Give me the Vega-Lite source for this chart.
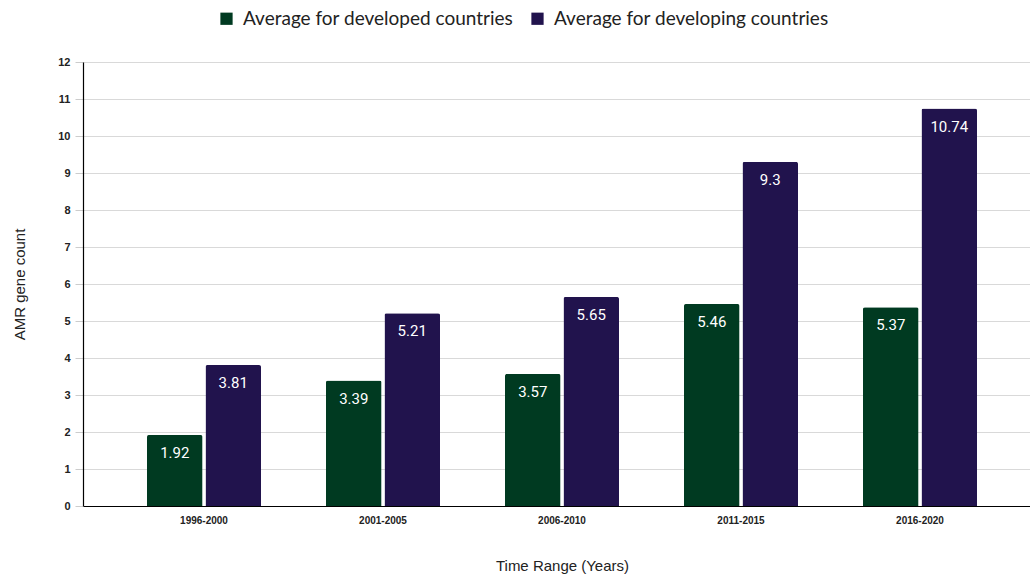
{
  "$schema": "https://vega.github.io/schema/vega-lite/v6.json",
  "width": 958,
  "height": 444,
  "autosize": "none",
  "padding": {"left": 83, "top": 62, "right": 0, "bottom": 71},
  "background": "white",
  "data": {
    "values": [
      {"range": "1996-2000", "group": "Average for developed countries", "value": 1.92},
      {"range": "1996-2000", "group": "Average for developing countries", "value": 3.81},
      {"range": "2001-2005", "group": "Average for developed countries", "value": 3.39},
      {"range": "2001-2005", "group": "Average for developing countries", "value": 5.21},
      {"range": "2006-2010", "group": "Average for developed countries", "value": 3.57},
      {"range": "2006-2010", "group": "Average for developing countries", "value": 5.65},
      {"range": "2011-2015", "group": "Average for developed countries", "value": 5.46},
      {"range": "2011-2015", "group": "Average for developing countries", "value": 9.3},
      {"range": "2016-2020", "group": "Average for developed countries", "value": 5.37},
      {"range": "2016-2020", "group": "Average for developing countries", "value": 10.74}
    ]
  },
  "encoding": {
    "x": {
      "field": "range",
      "type": "nominal",
      "sort": null,
      "scale": {"paddingInner": 0.363, "paddingOuter": 0.3575},
      "axis": {
        "title": "Time Range (Years)",
        "titleFont": "Liberation Sans",
        "titleFontSize": 15,
        "titleFontWeight": "normal",
        "titleColor": "#222222",
        "titlePadding": 33,
        "labelAngle": 0,
        "labelFont": "Liberation Sans Narrow, Liberation Sans",
        "labelFontSize": 10,
        "labelFontWeight": "bold",
        "labelColor": "#222222",
        "labelPadding": 9,
        "ticks": false,
        "domainColor": "#000000",
        "domainWidth": 1.2,
        "grid": false
      }
    },
    "xOffset": {
      "field": "group",
      "type": "nominal",
      "scale": {"paddingInner": 0.05}
    },
    "y": {
      "field": "value",
      "type": "quantitative",
      "scale": {"domain": [0, 12]},
      "axis": {
        "title": "AMR gene count",
        "titleFont": "Liberation Sans",
        "titleFontSize": 15,
        "titleFontWeight": "normal",
        "titleColor": "#222222",
        "titlePadding": 30,
        "values": [0, 1, 2, 3, 4, 5, 6, 7, 8, 9, 10, 11, 12],
        "labelOverlap": false,
        "labelFont": "Liberation Sans",
        "labelFontSize": 11,
        "labelFontWeight": "bold",
        "labelColor": "#222222",
        "labelPadding": 5,
        "tickSize": 8,
        "tickColor": "#cccccc",
        "domainColor": "#000000",
        "domainWidth": 1.2,
        "gridColor": "#d9d9d9",
        "gridWidth": 1
      }
    }
  },
  "layer": [
    {
      "mark": {"type": "bar", "cornerRadiusTopLeft": 2, "cornerRadiusTopRight": 2},
      "encoding": {
        "color": {
          "field": "group",
          "type": "nominal",
          "scale": {
            "domain": ["Average for developed countries", "Average for developing countries"],
            "range": ["#003a21", "#21134d"]
          },
          "legend": {
            "title": null,
            "orient": "none",
            "direction": "horizontal",
            "legendX": 134,
            "legendY": -53,
            "symbolType": "square",
            "symbolSize": 150,
            "symbolStrokeWidth": 0,
            "labelFont": "Lato",
            "labelFontSize": 19,
            "labelLimit": 0,
            "labelColor": "#222222",
            "columnPadding": 14,
            "labelOffset": 7
          }
        }
      }
    },
    {
      "mark": {"type": "text", "color": "white", "baseline": "middle", "dy": 18, "font": "Roboto", "fontSize": 15},
      "encoding": {
        "text": {"field": "value", "type": "quantitative"}
      }
    }
  ]
}
